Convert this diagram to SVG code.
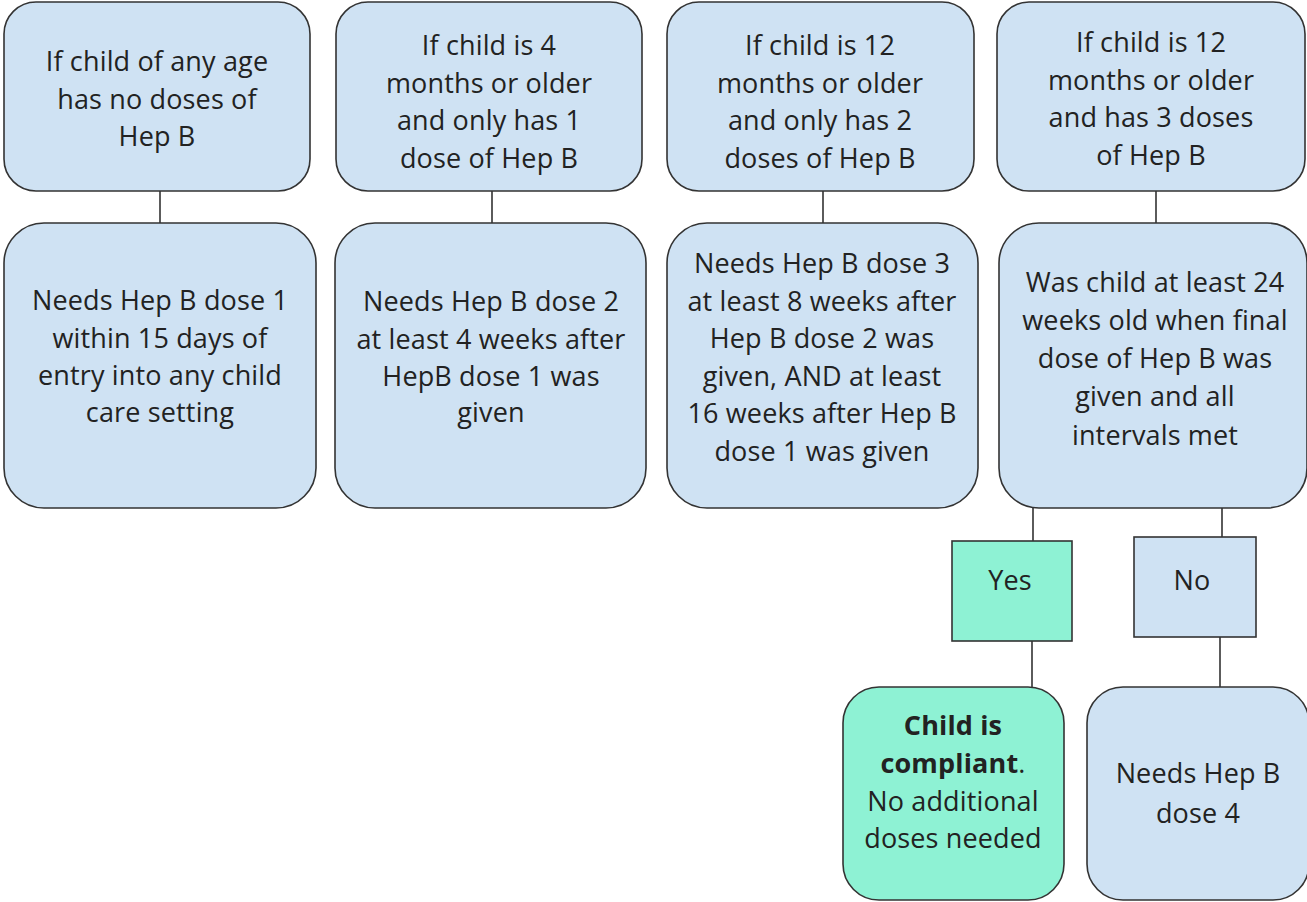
<svg xmlns="http://www.w3.org/2000/svg" width="1307" height="902" viewBox="0 0 1307 902">
  <style>
    .box { fill: #cfe2f3; stroke: #333333; stroke-width: 1.6; }
    .ok { fill: #8ef2d4; stroke: #333333; stroke-width: 1.6; }
    .lbl { font-family: "Open Sans", "Liberation Sans", sans-serif; font-size: 27px; letter-spacing: 0.15px; fill: #222222; text-anchor: middle; }
    .b { font-weight: bold; }
    .wire { stroke: #333333; stroke-width: 1.6; fill: none; }
  </style>
  <rect width="1307" height="902" fill="#ffffff"/>

  <!-- connectors -->
  <g id="connectors">
    <line class="wire" x1="160" y1="191" x2="160" y2="223"/>
    <line class="wire" x1="492" y1="191" x2="492" y2="223"/>
    <line class="wire" x1="823" y1="191" x2="823" y2="223"/>
    <line class="wire" x1="1156" y1="191" x2="1156" y2="223"/>
    <line class="wire" x1="1033" y1="508" x2="1033" y2="541"/>
    <line class="wire" x1="1222" y1="508" x2="1222" y2="537"/>
    <line class="wire" x1="1032" y1="641" x2="1032" y2="687"/>
    <line class="wire" x1="1220" y1="637" x2="1220" y2="687"/>
  </g>

  <!-- column 1 -->
  <g id="cond-none">
    <rect class="box" x="4" y="2" width="306" height="189" rx="32"/>
    <text class="lbl"><tspan x="157" y="71">If child of any age</tspan><tspan x="157" y="108.5">has no doses of</tspan><tspan x="157" y="146">Hep B</tspan></text>
  </g>
  <g id="need-dose1">
    <rect class="box" x="4" y="223" width="312" height="285" rx="40"/>
    <text class="lbl"><tspan x="160" y="310">Needs Hep B dose 1</tspan><tspan x="160" y="347.5">within 15 days of</tspan><tspan x="160" y="385">entry into any child</tspan><tspan x="160" y="422">care setting</tspan></text>
  </g>

  <!-- column 2 -->
  <g id="cond-one">
    <rect class="box" x="336" y="2" width="306" height="189" rx="32"/>
    <text class="lbl"><tspan x="489" y="55">If child is 4</tspan><tspan x="489" y="92.5">months or older</tspan><tspan x="489" y="130">and only has 1</tspan><tspan x="489" y="168">dose of Hep B</tspan></text>
  </g>
  <g id="need-dose2">
    <rect class="box" x="335" y="223" width="311" height="285" rx="40"/>
    <text class="lbl"><tspan x="491" y="311">Needs Hep B dose 2</tspan><tspan x="491" y="348.5">at least 4 weeks after</tspan><tspan x="491" y="386">HepB dose 1 was</tspan><tspan x="491" y="422">given</tspan></text>
  </g>

  <!-- column 3 -->
  <g id="cond-two">
    <rect class="box" x="667" y="2" width="307" height="189" rx="32"/>
    <text class="lbl"><tspan x="820" y="55">If child is 12</tspan><tspan x="820" y="92.5">months or older</tspan><tspan x="820" y="130">and only has 2</tspan><tspan x="820" y="168">doses of Hep B</tspan></text>
  </g>
  <g id="need-dose3">
    <rect class="box" x="667" y="223" width="311" height="285" rx="40"/>
    <text class="lbl"><tspan x="822" y="273">Needs Hep B dose 3</tspan><tspan x="822" y="310.5">at least 8 weeks after</tspan><tspan x="822" y="348">Hep B dose 2 was</tspan><tspan x="822" y="385.5">given, AND at least</tspan><tspan x="822" y="423">16 weeks after Hep B</tspan><tspan x="822" y="461">dose 1 was given</tspan></text>
  </g>

  <!-- column 4 -->
  <g id="cond-three">
    <rect class="box" x="997" y="2" width="308" height="189" rx="32"/>
    <text class="lbl"><tspan x="1151" y="52">If child is 12</tspan><tspan x="1151" y="89.5">months or older</tspan><tspan x="1151" y="127">and has 3 doses</tspan><tspan x="1151" y="165">of Hep B</tspan></text>
  </g>
  <g id="check-final">
    <rect class="box" x="999" y="223" width="308" height="285" rx="40"/>
    <text class="lbl"><tspan x="1155" y="292">Was child at least 24</tspan><tspan x="1155" y="330">weeks old when final</tspan><tspan x="1155" y="368">dose of Hep B was</tspan><tspan x="1155" y="406">given and all</tspan><tspan x="1155" y="445">intervals met</tspan></text>
  </g>

  <!-- decision answers -->
  <g id="ans-yes">
    <rect class="ok" x="952" y="541" width="120" height="100"/>
    <text class="lbl" x="1010" y="590">Yes</text>
  </g>
  <g id="ans-no">
    <rect class="box" x="1134" y="537" width="122" height="100"/>
    <text class="lbl" x="1192" y="590">No</text>
  </g>

  <!-- outcomes -->
  <g id="compliant">
    <rect class="ok" x="843" y="687" width="221" height="213" rx="36"/>
    <text class="lbl"><tspan x="953" y="735" class="b">Child is</tspan><tspan x="953" y="773"><tspan class="b">compliant</tspan>.</tspan><tspan x="953" y="811">No additional</tspan><tspan x="953" y="848">doses needed</tspan></text>
  </g>
  <g id="need-dose4">
    <rect class="box" x="1087" y="687" width="222" height="213" rx="36"/>
    <text class="lbl"><tspan x="1198" y="783">Needs Hep B</tspan><tspan x="1198" y="823">dose 4</tspan></text>
  </g>
</svg>
